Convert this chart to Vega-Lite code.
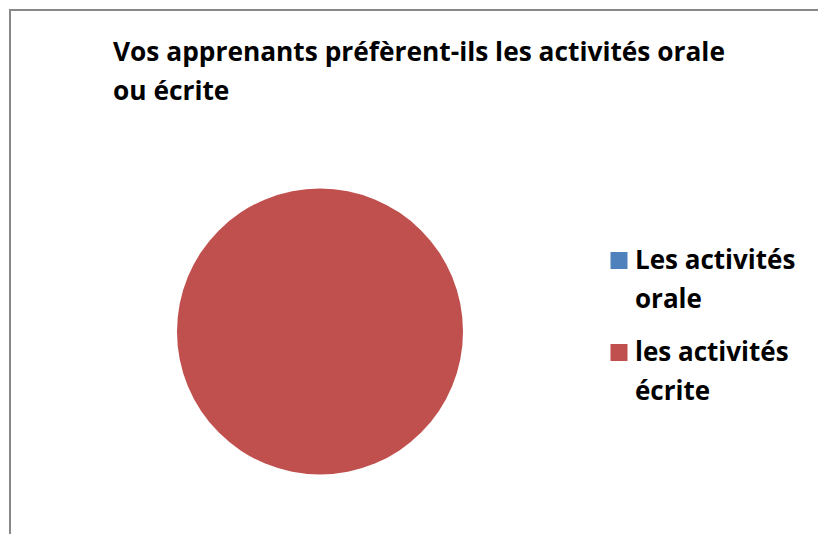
{
  "$schema": "https://vega.github.io/schema/vega-lite/v6.json",
  "width": 808,
  "height": 524,
  "autosize": {"type": "none"},
  "padding": {"left": 10, "top": 10, "right": 0, "bottom": 0},
  "background": "white",
  "view": {"stroke": "#888888", "strokeWidth": 2, "strokeDash": [808, 1332, 524], "fill": null},
  "title": {
    "text": ["Vos apprenants préfèrent-ils les activités orale", "ou écrite"],
    "anchor": "start",
    "frame": "group",
    "offset": 0,
    "dx": 103,
    "dy": 95,
    "font": "Open Sans",
    "fontSize": 26.3,
    "fontWeight": "bold",
    "color": "#000000",
    "lineHeight": 39
  },
  "data": {
    "values": [
      {"activite": "Les activités orale", "nombre": 0},
      {"activite": "les activités écrite", "nombre": 100}
    ]
  },
  "mark": {"type": "arc", "x": 310, "y": 321.5, "radius": 143, "stroke": null},
  "encoding": {
    "theta": {"field": "nombre", "type": "quantitative", "stack": true},
    "color": {
      "field": "activite",
      "type": "nominal",
      "sort": ["Les activités orale", "les activités écrite"],
      "scale": {
        "domain": ["Les activités orale", "les activités écrite"],
        "range": ["#4F81BD", "#C0504D"]
      },
      "legend": {
        "title": null,
        "orient": "none",
        "legendX": 596,
        "legendY": 246,
        "symbolType": "M-1,-2H1V0H-1Z",
        "symbolSize": 289,
        "symbolStrokeWidth": 0,
        "symbolOpacity": 1,
        "labelBaseline": "alphabetic",
        "labelFont": "Open Sans",
        "labelFontSize": 26,
        "labelFontWeight": "bold",
        "labelColor": "#000000",
        "labelLimit": 400,
        "labelOffset": 3,
        "rowPadding": 27,
        "labelExpr": "[slice(datum.label, 0, lastindexof(datum.label, ' ')), slice(datum.label, lastindexof(datum.label, ' ') + 1)]"
      }
    }
  },
  "config": {
    "style": {"guide-label": {"lineHeight": 39}, "view": {"stroke": "#888888", "strokeWidth": 2, "strokeDash": [808, 1332, 524]}}
  }
}
